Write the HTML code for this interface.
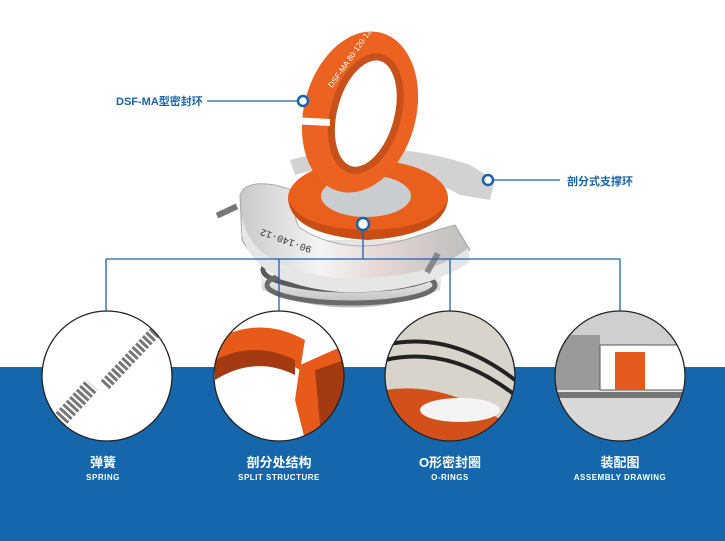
<!DOCTYPE html>
<html><head><meta charset="utf-8"><style>
html,body{margin:0;padding:0;width:725px;height:541px;overflow:hidden;background:#fff;font-family:"Liberation Sans","Noto Sans CJK SC",sans-serif}
.t{position:absolute;color:#fff;text-align:center;width:160px}
.cn{font-size:13px;font-weight:bold}
.en{font-size:8px;font-weight:bold;letter-spacing:.5px;margin-top:2px}
</style></head><body>
<svg width="725" height="541" style="position:absolute;left:0;top:0">
<defs>
<linearGradient id="sil" x1="0" x2="1" y1="0" y2="0"><stop offset="0" stop-color="#c9c9c9"/><stop offset=".35" stop-color="#f4f4f4"/><stop offset=".6" stop-color="#e7d8d6"/><stop offset="1" stop-color="#bdbdbd"/></linearGradient>
<linearGradient id="met" x1="0" x2="0" y1="0" y2="1"><stop offset="0" stop-color="#e4e4e4"/><stop offset=".5" stop-color="#f4f4f4"/><stop offset="1" stop-color="#b9b9b9"/></linearGradient>
<clipPath id="c1"><circle cx="107" cy="376" r="65"/></clipPath>
<clipPath id="c2"><circle cx="279" cy="376" r="65"/></clipPath>
<clipPath id="c3"><circle cx="450" cy="376" r="65"/></clipPath>
<clipPath id="c4"><circle cx="620" cy="376" r="65"/></clipPath>
</defs>
<rect x="0" y="367" width="725" height="174" fill="#1566ab"/>
<!-- product body -->
<path d="M258 240 L262 290 Q350 325 440 290 L445 240 Z" fill="url(#met)"/>
<ellipse cx="351" cy="270" rx="88" ry="20" fill="none" stroke="#5a5a5a" stroke-width="5"/>
<ellipse cx="351" cy="285" rx="84" ry="18" fill="none" stroke="#6a6a6a" stroke-width="5"/>
<!-- back clamp -->
<path d="M290 160 Q380 135 470 165 L495 180 L490 200 L460 195 Q380 150 295 175 Z" fill="#d2d2d2"/>
<!-- front clamp -->
<path d="M240 195 Q245 180 275 185 L300 192 Q290 215 300 228 Q350 260 420 235 L455 225 L470 250 Q420 285 340 280 Q260 275 242 240 Z" fill="url(#sil)" stroke="#aaa" stroke-width="1"/>
<path d="M242 215 Q250 270 340 278 Q430 280 468 248 L470 262 Q420 295 340 292 Q255 285 242 235 Z" fill="#e6e6e6"/>
<text x="295" y="232" font-size="10" fill="#333" transform="rotate(200 305 238)" font-family="Liberation Mono">90·140·12</text>
<!-- lower orange ring -->
<ellipse cx="368" cy="198" rx="80" ry="38" fill="#ea5f1c"/>
<ellipse cx="366" cy="196" rx="45" ry="21" fill="#c9cdd0"/>
<path d="M288 198 Q290 235 368 240 Q446 235 448 198 Q440 228 368 230 Q296 228 288 198Z" fill="#c94d14"/>
<!-- top orange ring -->
<g transform="rotate(15 360 112)">
<ellipse cx="360" cy="112" rx="56" ry="82" fill="#ec6220"/>
<ellipse cx="366" cy="112" rx="32" ry="58" fill="#fff"/>
<ellipse cx="366" cy="112" rx="32" ry="58" fill="none" stroke="#c8501a" stroke-width="7"/>
</g>
<rect x="298" y="118" width="32" height="7" fill="#fff" transform="rotate(3 310 120)"/>
<text x="328" y="80" font-size="8" fill="#fff" transform="rotate(-55 338 80)">DSF-MA 80·120·12</text>
<!-- bolts -->
<rect x="216" y="208" width="22" height="6" fill="#777" transform="rotate(-25 227 211)"/>
<rect x="430" y="252" width="6" height="22" fill="#888" transform="rotate(30 433 262)"/>
<!-- connectors -->
<g stroke="#1a63a8" stroke-width="1.3" fill="none">
<line x1="207" y1="101" x2="298" y2="101"/>
<line x1="493" y1="180" x2="560" y2="180"/>
<line x1="363" y1="229" x2="363" y2="259"/>
<line x1="106" y1="259" x2="620" y2="259"/>
<line x1="106" y1="259" x2="106" y2="311"/>
<line x1="279" y1="259" x2="279" y2="311"/>
<line x1="450" y1="259" x2="450" y2="311"/>
<line x1="620" y1="259" x2="620" y2="311"/>
</g>
<g fill="#fff" stroke="#1a63a8" stroke-width="2.5">
<circle cx="303" cy="101" r="5"/><circle cx="488" cy="180" r="5"/><circle cx="363" cy="224" r="6"/>
</g>
<!-- circles -->
<g clip-path="url(#c1)"><rect x="40" y="310" width="135" height="135" fill="#fff"/>
<line x1="58" y1="422" x2="92" y2="385" stroke="#777" stroke-width="16" stroke-dasharray="3 2"/>
<line x1="105" y1="385" x2="155" y2="332" stroke="#777" stroke-width="12" stroke-dasharray="3 2"/></g>
<g clip-path="url(#c2)"><rect x="210" y="310" width="140" height="135" fill="#fff"/>
<path d="M215 340 Q260 315 305 340 L300 370 Q260 345 215 370Z" fill="#e85a1a"/>
<path d="M215 360 Q255 340 295 360 L295 375 Q255 355 215 380Z" fill="#a33a12"/>
<path d="M300 365 L345 345 L345 430 L305 440 L295 400Z" fill="#e85a1a"/>
<path d="M315 370 L345 360 L345 410 L320 425Z" fill="#a33a12"/></g>
<g clip-path="url(#c3)"><rect x="385" y="310" width="135" height="135" fill="#d8d4cc"/>
<path d="M385 345 Q450 330 515 380" stroke="#222" stroke-width="4" fill="none"/>
<path d="M385 360 Q450 345 515 395" stroke="#222" stroke-width="4" fill="none"/>
<path d="M385 390 Q450 380 515 430 L515 445 L385 445Z" fill="#d4501a"/>
<ellipse cx="460" cy="410" rx="40" ry="12" fill="#f4f4f4"/></g>
<g clip-path="url(#c4)"><rect x="555" y="310" width="135" height="135" fill="#e4e4e4"/>
<rect x="555" y="310" width="135" height="35" fill="#cfcfcf"/>
<rect x="555" y="335" width="45" height="55" fill="#9a9a9a"/>
<rect x="600" y="345" width="85" height="45" fill="#fff" stroke="#555"/>
<rect x="615" y="352" width="30" height="38" fill="#e55a1c"/>
<rect x="555" y="392" width="135" height="6" fill="#777"/>
<rect x="555" y="398" width="135" height="47" fill="#d8d8d8"/></g>
<g fill="none" stroke="#222" stroke-width="1.3">
<circle cx="107" cy="376" r="65"/><circle cx="279" cy="376" r="65"/><circle cx="450" cy="376" r="65"/><circle cx="620" cy="376" r="65"/>
</g>
</svg>
<div style="position:absolute;left:116px;top:93px;font-size:11px;font-weight:bold;color:#1a63a8">DSF-MA型密封环</div>
<div style="position:absolute;left:567px;top:173px;font-size:11px;font-weight:bold;color:#1a63a8">剖分式支撑环</div>
<div class="t" style="left:23px;top:452px"><div class="cn">弹簧</div><div class="en">SPRING</div></div>
<div class="t" style="left:199px;top:452px"><div class="cn">剖分处结构</div><div class="en">SPLIT STRUCTURE</div></div>
<div class="t" style="left:370px;top:452px"><div class="cn">O形密封圈</div><div class="en">O-RINGS</div></div>
<div class="t" style="left:540px;top:452px"><div class="cn">装配图</div><div class="en">ASSEMBLY DRAWING</div></div>
</body></html>
